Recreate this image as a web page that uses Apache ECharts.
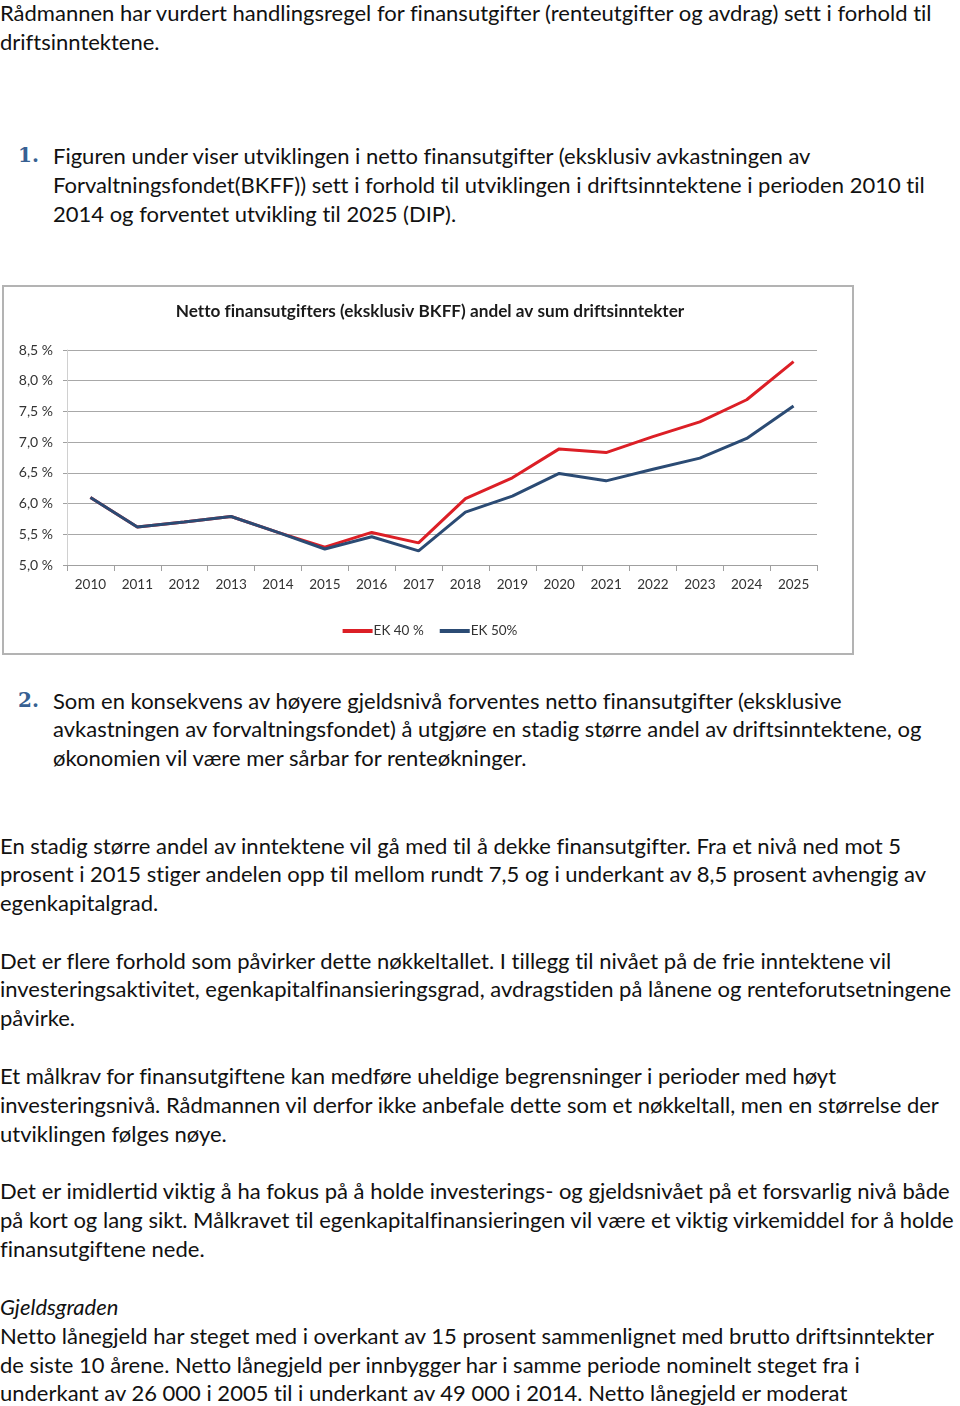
<!DOCTYPE html>
<html>
<head>
<meta charset="utf-8">
<script src="https://cdn.jsdelivr.net/npm/echarts@6/dist/echarts.min.js"></script>
<style>
html,body{margin:0;padding:0;background:#fff;}
body{width:960px;height:1406px;position:relative;overflow:hidden;font-family:Lato,"Open Sans",sans-serif;color:#111;font-variant-ligatures:none;}
.ln{position:absolute;white-space:nowrap;font-size:22px;line-height:29px;height:29px;}
.num{position:absolute;white-space:nowrap;font-family:"DejaVu Serif","Liberation Serif",serif;font-weight:bold;color:#376092;font-size:20px;line-height:29px;}
#box{position:absolute;left:2px;top:285px;width:852px;height:370px;box-sizing:border-box;border:2px solid #b3b3b3;}
#chart{position:absolute;left:2px;top:2px;width:848px;height:366px;}
</style>
</head>
<body>
<div id="text"></div>
<div id="box"><div id="chart"></div></div>
<script>
// ---- chart data ----
const years = ['2010','2011','2012','2013','2014','2015','2016','2017','2018','2019','2020','2021','2022','2023','2024','2025'];
const ek40 = [6.10,5.62,5.70,5.79,5.53,5.29,5.53,5.36,6.08,6.42,6.89,6.83,7.09,7.33,7.69,8.31];
const ek50 = [6.10,5.62,5.70,5.79,5.53,5.26,5.46,5.23,5.86,6.12,6.49,6.37,6.56,6.74,7.06,7.59];
const yTicks = [5.0,5.5,6.0,6.5,7.0,7.5,8.0,8.5];
const seriesNames = ['EK 40 %','EK 50%'];
const chartTitle = 'Netto finansutgifters (eksklusiv BKFF) andel av sum driftsinntekter';

// ---- page text ----
const lines = [
  [0,-2,'Rådmannen har vurdert handlingsregel for finansutgifter (renteutgifter og avdrag) sett i forhold til'],
  [0,27,'driftsinntektene.'],
  [53,141,'Figuren under viser utviklingen i netto finansutgifter (eksklusiv avkastningen av'],
  [53,170,'Forvaltningsfondet(BKFF)) sett i forhold til utviklingen i driftsinntektene i perioden 2010 til'],
  [53,199,'2014 og forventet utvikling til 2025 (DIP).'],
  [53,686,'Som en konsekvens av høyere gjeldsnivå forventes netto finansutgifter (eksklusive'],
  [53,714,'avkastningen av forvaltningsfondet) å utgjøre en stadig større andel av driftsinntektene, og'],
  [53,743,'økonomien vil være mer sårbar for renteøkninger.'],
  [0,831,'En stadig større andel av inntektene vil gå med til å dekke finansutgifter. Fra et nivå ned mot 5'],
  [0,859,'prosent i 2015 stiger andelen opp til mellom rundt 7,5 og i underkant av 8,5 prosent avhengig av'],
  [0,888,'egenkapitalgrad.'],
  [0,946,'Det er flere forhold som påvirker dette nøkkeltallet. I tillegg til nivået på de frie inntektene vil'],
  [0,974,'investeringsaktivitet, egenkapitalfinansieringsgrad, avdragstiden på lånene og renteforutsetningene'],
  [0,1003,'påvirke.'],
  [0,1061,'Et målkrav for finansutgiftene kan medføre uheldige begrensninger i perioder med høyt'],
  [0,1090,'investeringsnivå. Rådmannen vil derfor ikke anbefale dette som et nøkkeltall, men en størrelse der'],
  [0,1119,'utviklingen følges nøye.'],
  [0,1176,'Det er imidlertid viktig å ha fokus på å holde investerings- og gjeldsnivået på et forsvarlig nivå både'],
  [0,1205,'på kort og lang sikt. Målkravet til egenkapitalfinansieringen vil være et viktig virkemiddel for å holde'],
  [0,1234,'finansutgiftene nede.'],
  [0,1292,'Gjeldsgraden','italic'],
  [0,1321,'Netto lånegjeld har steget med i overkant av 15 prosent sammenlignet med brutto driftsinntekter'],
  [0,1350,'de siste 10 årene. Netto lånegjeld per innbygger har i samme periode nominelt steget fra i'],
  [0,1378,'underkant av 26 000 i 2005 til i underkant av 49 000 i 2014. Netto lånegjeld er moderat']
];
const nums = [[18,141,'1.'],[18,686,'2.']];
const t = document.getElementById('text');
lines.forEach(l=>{
  const d=document.createElement('div');d.className='ln';
  d.style.left=l[0]+'px';d.style.top=l[1]+'px';d.textContent=l[2];
  if(l[3]==='italic')d.style.fontStyle='italic';
  t.appendChild(d);
});
nums.forEach(n=>{
  const d=document.createElement('div');d.className='num';
  d.style.left=n[0]+'px';d.style.top=n[1]+'px';d.textContent=n[2];
  t.appendChild(d);
});

// ---- chart ----
const chart = echarts.init(document.getElementById('chart'));
const fmt = v => v.toFixed(1).replace('.', ',') + ' %';
chart.setOption({
  animation:false,
  title:{text:chartTitle,left:'center',top:9,textStyle:{fontFamily:'Lato',fontWeight:'bold',fontSize:17.2,color:'#1a1a1a'}},
  legend:{bottom:12,left:'center',itemWidth:30,itemHeight:4,itemGap:16,icon:'rect',
    textStyle:{fontFamily:'Lato',fontSize:13.5,color:'#333',padding:[0,0,0,-4]},data:seriesNames},
  grid:{left:61,right:37,top:61,bottom:90},
  xAxis:{type:'category',data:years,boundaryGap:true,
    axisLine:{lineStyle:{color:'#a0a0a0'}},axisTick:{show:true,length:6,lineStyle:{color:'#a0a0a0'}},
    axisLabel:{fontFamily:'Lato',fontSize:13.5,color:'#333',margin:13}},
  yAxis:{type:'value',min:5,max:8.5,interval:0.5,
    axisLine:{show:true,lineStyle:{color:'#d0d0d0'}},axisTick:{show:true,length:4,lineStyle:{color:'#a0a0a0'}},
    splitLine:{lineStyle:{color:'#a8a8a8'}},
    axisLabel:{fontFamily:'Lato',fontSize:14,color:'#333',margin:14,formatter:fmt,
      customValues:yTicks}},
  series:[
    {name:seriesNames[0],type:'line',data:ek40,symbol:'none',lineStyle:{width:3,color:'#dc1f26'},itemStyle:{color:'#dc1f26'},z:2},
    {name:seriesNames[1],type:'line',data:ek50,symbol:'none',lineStyle:{width:3,color:'#2b4b74'},itemStyle:{color:'#2b4b74'},z:3}
  ]
});
</script>
</body>
</html>
